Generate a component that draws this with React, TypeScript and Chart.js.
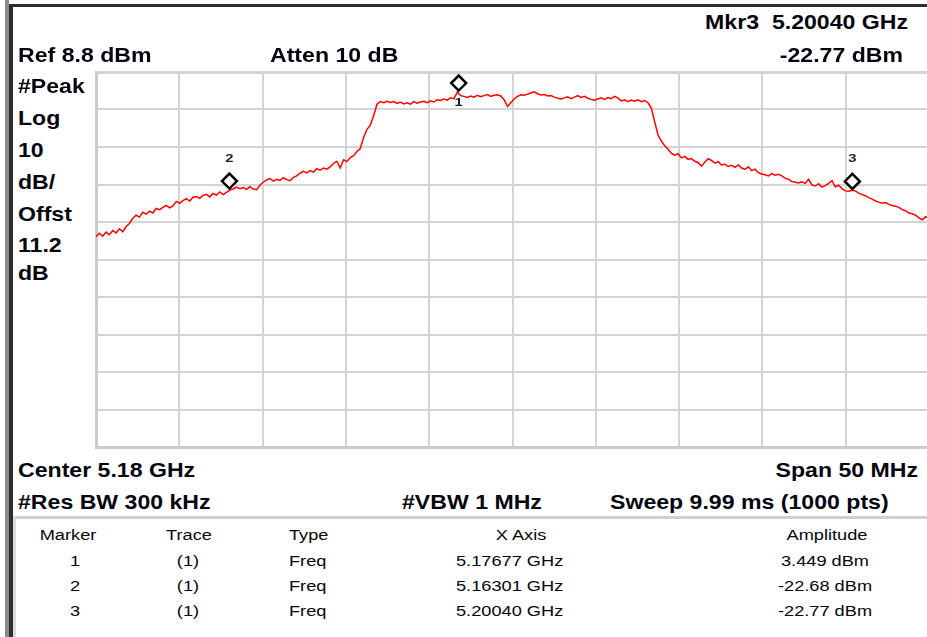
import React, { useEffect, useRef } from "react";
import { Chart, registerables } from "chart.js";

Chart.register(...registerables);

// ---- data ----
const sweepStartMHz = 5155;
const sweepStopMHz = 5205;
const refLevelDbm = 8.8;
const bottomLevelDbm = -91.2;
const xGridMHz = [5155, 5160, 5165, 5170, 5175, 5180, 5185, 5190, 5195, 5200, 5205];
const yGridDbm = [8.8, -1.2, -11.2, -21.2, -31.2, -41.2, -51.2, -61.2, -71.2, -81.2, -91.2];

// trace amplitude (dBm), read along the sweep from 5.155 GHz to 5.205 GHz
const traceDbm = [
  -35.1, -34.2, -35.0, -33.9, -34.6, -33.5, -34.1, -33.0, -33.8, -32.4,
  -31.6, -30.2, -29.4, -29.9, -28.6, -29.1, -28.3, -28.8, -27.6, -27.9,
  -27.3, -26.8, -27.4, -26.9, -25.7, -26.2, -25.5, -25.0, -25.6, -24.6,
  -24.4, -24.9, -24.1, -23.8, -24.5, -23.6, -24.0, -23.2, -23.9, -23.3,
  -22.7, -22.4, -21.9, -22.3, -22.0, -22.5, -21.8, -22.4, -22.6, -21.4,
  -20.6, -20.0, -19.6, -20.3, -19.8, -20.1, -19.4, -19.9, -20.2, -19.3,
  -18.9, -18.2, -17.7, -18.1, -17.5, -17.9, -17.0, -17.4, -16.8, -17.1,
  -16.5, -15.6, -15.0, -16.8, -14.6, -15.1, -14.0, -13.5, -12.4, -11.6,
  -8.6, -6.5, -5.4, -2.8, 0.2, 0.9, 0.6, 1.0, 0.7, 0.9,
  0.4, 0.8, 0.3, 0.6, 0.2, 0.9, 0.5, 0.8, 1.0, 0.6,
  1.1, 0.8, 1.4, 1.2, 1.6, 1.3, 1.9, 1.7, 3.45, 2.5,
  2.3, 2.0, 2.4, 2.1, 2.6, 2.2, 2.5, 2.8, 2.3, 2.6,
  2.7, 2.4, 1.4, -0.4, 0.6, 1.6, 2.3, 2.7, 2.6, 2.9,
  3.2, 3.5, 3.0, 2.7, 2.8, 2.4, 2.5, 2.1, 1.8, 1.6,
  1.9, 2.2, 1.7, 2.1, 2.5, 2.0, 2.3, 1.8, 1.5, 1.3,
  1.6, 1.9, 1.5, 2.0, 1.7, 2.3, 1.9, 1.1, 1.4, 0.9,
  1.3, 1.0, 1.4, 0.9, 1.2, 0.6, -0.8, -4.5, -8.0, -9.6,
  -10.9, -11.8, -12.9, -13.4, -13.0, -14.1, -13.7, -14.5, -14.3, -15.0,
  -15.4, -16.3, -15.2, -14.3, -14.8, -15.5, -15.1, -16.0, -15.8, -16.4,
  -16.1, -16.6, -16.0, -16.8, -17.2, -16.5, -17.5, -17.1, -18.0, -18.4,
  -18.6, -18.9, -18.3, -18.7, -18.5, -18.9, -19.5, -19.8, -20.4, -20.6,
  -20.8, -20.5, -20.9, -19.8, -21.3, -21.6, -21.0, -21.9, -21.5, -20.9,
  -20.2, -21.8, -21.4, -22.3, -22.9, -23.0, -22.77, -22.9, -23.5, -23.9,
  -24.2, -24.7, -25.1, -25.6, -25.9, -26.2, -26.0, -26.5, -26.8, -27.0,
  -27.3, -27.9, -28.2, -28.8, -29.0, -29.4, -30.1, -30.6, -29.8, -30.2,
];

const markerNumbers = [1, 2, 3];
const markerTraces = ["(1)", "(1)", "(1)"];
const markerTypes = ["Freq", "Freq", "Freq"];
const markerFreqMHz = [5176.77, 5163.01, 5200.4];
const markerAmpDbm = [3.449, -22.68, -22.77];
const markerFreqText = ["5.17677 GHz", "5.16301 GHz", "5.20040 GHz"];
const markerAmpText = ["3.449 dBm", "-22.68 dBm", "-22.77 dBm"];

const headerTexts = {
  mkr: "Mkr3  5.20040 GHz",
  mkrAmp: "-22.77 dBm",
  ref: "Ref 8.8 dBm",
  atten: "Atten 10 dB",
};
const leftLabels = ["#Peak", "Log", "10", "dB/", "Offst", "11.2", "dB"];
const footerTexts = {
  center: "Center 5.18 GHz",
  span: "Span 50 MHz",
  rbw: "#Res BW 300 kHz",
  vbw: "#VBW 1 MHz",
  sweep: "Sweep 9.99 ms (1000 pts)",
};
const tableHeaders = ["Marker", "Trace", "Type", "X Axis", "Amplitude"];

// ---- styles ----
const FONT = "'Liberation Sans', Arial, sans-serif";

type TProps = {
  x: number;
  y: number;
  text: string;
  align?: "left" | "center" | "right";
  size?: number;
  bold?: boolean;
  sx?: number;
};

function T({ x, y, text, align = "left", size = 21, bold = true, sx = 1.1 }: TProps) {
  const tx = align === "left" ? "0" : align === "center" ? "-50%" : "-100%";
  return (
    <div
      style={{
        position: "absolute",
        left: x,
        top: y - size * 0.6,
        transform: `translateX(${tx})`,
        whiteSpace: "pre",
        lineHeight: `${size * 1.2}px`,
        fontFamily: FONT,
        fontSize: size,
        fontWeight: bold ? 700 : 400,
        color: "#05050f",
      }}
    >
      <span
        style={{
          display: "inline-block",
          transform: `scaleX(${sx})`,
          transformOrigin: align === "left" ? "left center" : align === "center" ? "center center" : "right center",
        }}
      >
        {text}
      </span>
    </div>
  );
}

const markerPlugin = {
  id: "saMarkers",
  afterDatasetsDraw(chart: any) {
    const ctx = chart.ctx;
    const xs = chart.scales.x;
    const ys = chart.scales.y;
    markerFreqMHz.forEach((f, i) => {
      const px = xs.getPixelForValue(f);
      const py = ys.getPixelForValue(markerAmpDbm[i]);
      const cy = py - 9;
      const r = 7.5;
      ctx.save();
      ctx.beginPath();
      ctx.moveTo(px, cy - r);
      ctx.lineTo(px + r, cy);
      ctx.lineTo(px, cy + r);
      ctx.lineTo(px - r, cy);
      ctx.closePath();
      ctx.fillStyle = "#ffffff";
      ctx.fill();
      ctx.lineWidth = 2.5;
      ctx.strokeStyle = "#000000";
      ctx.stroke();
      const below = markerNumbers[i] === 1;
      const ly = below ? py + 11 : py - 31;
      ctx.translate(px, ly);
      ctx.scale(1.35, 1);
      ctx.font = `bold 11px ${FONT}`;
      ctx.textAlign = "center";
      ctx.textBaseline = "middle";
      ctx.fillStyle = "#14213d";
      ctx.fillText(String(markerNumbers[i]), 0, 0);
      ctx.restore();
    });
  },
};

function SpectrumChart() {
  const ref = useRef<HTMLCanvasElement | null>(null);
  useEffect(() => {
    if (!ref.current) return;
    const n = traceDbm.length;
    const step = (sweepStopMHz - sweepStartMHz) / (n - 1);
    const chart = new Chart(ref.current, {
      type: "line",
      data: {
        datasets: [
          {
            data: traceDbm.map((v, i) => ({ x: sweepStartMHz + i * step, y: v })),
            borderColor: "#ff0000",
            borderWidth: 1.5,
            pointRadius: 0,
            tension: 0,
            fill: false,
          },
        ],
      },
      options: {
        animation: false,
        responsive: true,
        maintainAspectRatio: false,
        layout: { padding: { left: 6, top: 6, right: 6, bottom: 6 } },
        plugins: { legend: { display: false }, tooltip: { enabled: false } },
        scales: {
          x: {
            type: "linear",
            min: sweepStartMHz,
            max: sweepStopMHz,
            afterBuildTicks: (s: any) => {
              s.ticks = xGridMHz.map((v) => ({ value: v }));
            },
            ticks: { display: false },
            grid: { color: "#d4d4d4", lineWidth: 2, drawTicks: false },
            border: { display: true, color: "#cbcbcb", width: 3 },
          },
          y: {
            type: "linear",
            min: bottomLevelDbm,
            max: refLevelDbm,
            afterBuildTicks: (s: any) => {
              s.ticks = yGridDbm.slice().reverse().map((v) => ({ value: v }));
            },
            ticks: { display: false },
            grid: {
              color: "#d4d4d4",
              lineWidth: (c: any) => (c.tick && c.tick.value === refLevelDbm ? 3 : 2),
              drawTicks: false,
            },
            border: { display: true, color: "#cbcbcb", width: 3 },
          },
        },
      },
      plugins: [markerPlugin],
    } as any);
    return () => chart.destroy();
  }, []);
  return (
    <div style={{ position: "absolute", left: 90, top: 66, width: 845, height: 387 }}>
      <canvas ref={ref} />
    </div>
  );
}

export default function App() {
  const leftY = [85.5, 118, 149.5, 181.5, 213.5, 245, 273];
  const rowY = [561, 586, 611];
  return (
    <div
      style={{
        position: "fixed",
        left: 0,
        top: 0,
        width: 927,
        height: 637,
        overflow: "hidden",
        background: "#ffffff",
      }}
    >
      {/* frame */}
      <div style={{ position: "absolute", left: 5, top: 0, width: 4, height: 637, background: "#8a8a8a" }} />
      <div style={{ position: "absolute", left: 9, top: 4, width: 4, height: 633, background: "#2e2e2e" }} />
      <div style={{ position: "absolute", left: 9, top: 4, width: 918, height: 3, background: "#2e2e2e" }} />
      <div style={{ position: "absolute", left: 13, top: 516, width: 914, height: 3, background: "#cfcfcf" }} />
      <div style={{ position: "absolute", left: 13, top: 516, width: 3, height: 121, background: "#dadada" }} />

      <SpectrumChart />

      {/* header */}
      <T x={908} y={22} text={headerTexts.mkr} align="right" />
      <T x={903} y={55} text={headerTexts.mkrAmp} align="right" />
      <T x={18} y={55} text={headerTexts.ref} />
      <T x={270} y={55} text={headerTexts.atten} />
      {leftLabels.map((t, i) => (
        <T key={t + i} x={18} y={leftY[i]} text={t} />
      ))}

      {/* footer */}
      <T x={18} y={470} text={footerTexts.center} />
      <T x={918} y={470} text={footerTexts.span} align="right" />
      <T x={18} y={501.5} text={footerTexts.rbw} />
      <T x={402} y={501.5} text={footerTexts.vbw} />
      <T x={610} y={501.5} text={footerTexts.sweep} />

      {/* marker table */}
      <T x={67.5} y={535} text={tableHeaders[0]} align="center" size={14} bold={false} sx={1.3} />
      <T x={188.5} y={535} text={tableHeaders[1]} align="center" size={14} bold={false} sx={1.3} />
      <T x={289} y={535} text={tableHeaders[2]} size={14} bold={false} sx={1.3} />
      <T x={521} y={535} text={tableHeaders[3]} align="center" size={14} bold={false} sx={1.3} />
      <T x={827} y={535} text={tableHeaders[4]} align="center" size={14} bold={false} sx={1.3} />
      {markerNumbers.map((m, i) => (
        <React.Fragment key={m}>
          <T x={75} y={rowY[i]} text={String(m)} align="center" size={14} bold={false} sx={1.3} />
          <T x={188} y={rowY[i]} text={markerTraces[i]} align="center" size={14} bold={false} sx={1.3} />
          <T x={289} y={rowY[i]} text={markerTypes[i]} size={14} bold={false} sx={1.3} />
          <T x={456} y={rowY[i]} text={markerFreqText[i]} size={14} bold={false} sx={1.3} />
          <T x={825} y={rowY[i]} text={markerAmpText[i]} align="center" size={14} bold={false} sx={1.3} />
        </React.Fragment>
      ))}
    </div>
  );
}
